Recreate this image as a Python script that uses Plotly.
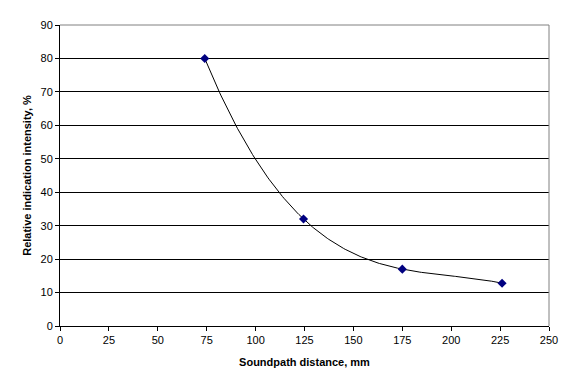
import numpy as np
import plotly.graph_objects as go

distance_mm = [74, 124.5, 175, 226]
intensity_pct = [80, 32, 17, 12.8]
x_ticks = [0, 25, 50, 75, 100, 125, 150, 175, 200, 225, 250]
y_ticks = [0, 10, 20, 30, 40, 50, 60, 70, 80, 90]
trend_order = 3  # polynomial trendline, as in the source spreadsheet chart

font_family = "Liberation Sans, Arial, sans-serif"

# trendline fitted to the data (polynomial fit over the data's x span)
coef = np.polyfit(distance_mm, intensity_pct, trend_order)
trend_x = np.linspace(min(distance_mm), max(distance_mm), 200)
trend_y = np.polyval(coef, trend_x)

fig = go.Figure()
fig.add_trace(go.Scatter(
    x=trend_x, y=trend_y, mode="lines",
    line=dict(color="black", width=1),
    showlegend=False, hoverinfo="skip",
))
fig.add_trace(go.Scatter(
    x=distance_mm, y=intensity_pct,
    mode="markers",
    marker=dict(symbol="diamond", size=7, color="#000080"),
    showlegend=False,
    hoverinfo="x+y",
))

fig.update_layout(
    width=576, height=391,
    margin=dict(l=59.5, r=26.7, t=25, b=64.7),
    paper_bgcolor="white", plot_bgcolor="white",
    font=dict(family=font_family, size=11, color="black"),
    xaxis=dict(
        range=[0, 250], tickvals=x_ticks, ticktext=[str(v) for v in x_ticks],
        showgrid=False, zeroline=False,
        showline=True, linecolor="black", linewidth=1,
        ticks="outside", ticklen=4, tickcolor="black",
        title=dict(text="<b>Soundpath distance, mm</b>", font=dict(size=11), standoff=13),
    ),
    yaxis=dict(
        range=[0, 90], tickvals=y_ticks, ticktext=[str(v) for v in y_ticks],
        showgrid=True, gridcolor="black", gridwidth=1,
        zeroline=False,
        showline=True, linecolor="black", linewidth=1,
        ticks="outside", ticklen=4, tickcolor="black",
        title=dict(text="<b>Relative indication intensity, %</b>", font=dict(size=11), standoff=6),
    ),
)

# gray top and right frame of the plot area
fig.add_shape(type="line", xref="x domain", yref="y domain", x0=0, x1=1, y0=1, y1=1,
              line=dict(color="#808080", width=1))
fig.add_shape(type="line", xref="x domain", yref="y domain", x0=1, x1=1, y0=0, y1=1,
              line=dict(color="#808080", width=1))

fig.write_html("out.html", config={"displayModeBar": False},
               post_script="document.body.style.margin='0px';")
